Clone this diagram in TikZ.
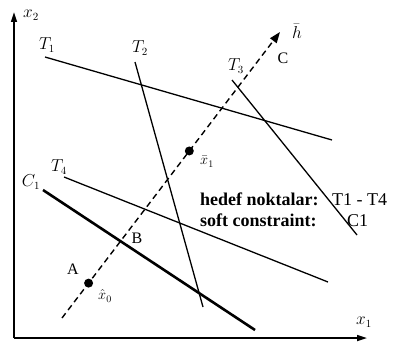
\documentclass[tikz,border=0pt]{standalone}
\usepackage{fontspec}
\setmainfont{Liberation Serif}
\usepackage{tikz}
\usetikzlibrary{arrows.meta,calc}
\tikzset{axis/.style={-{Triangle[length=10pt,width=6pt]},line width=1.6pt},
 target/.style={line width=1.3pt},
 constraint/.style={line width=2.6pt},
 direction/.style={-{Triangle[length=11pt,width=8pt]},line width=1.4pt,dash pattern=on 6pt off 4pt},
 every node/.style={font=\fontsize{16}{18}\selectfont}}

\begin{document}
\begin{tikzpicture}[x=1pt,y=1pt]
\useasboundingbox (0,0) rectangle (393,349);
\coordinate (O) at (14,11);
\draw[axis] (O)--(367,11);
\draw[axis] (O)--(14,337);
\node (lx1) at (364,27) {$x_1$};
\node (lx2) at (31,334) {$x_2$};
% target lines
\coordinate (T1a) at (45,292); \coordinate (T1b) at (332,209);
\coordinate (T2a) at (135,287); \coordinate (T2b) at (203,42);
\coordinate (T3a) at (232,269); \coordinate (T3b) at (357,114);
\coordinate (T4a) at (64,172); \coordinate (T4b) at (328,67);
\coordinate (C1a) at (43,159); \coordinate (C1b) at (255,19);
\draw[target] (T1a)--(T1b);
\draw[target] (T2a)--(T2b);
\draw[target] (T3a)--(T3b);
\draw[target] (T4a)--(T4b);
\draw[constraint] (C1a)--(C1b);
\node (lT1) at (47,304) {$T_1$};
\node (lT2) at (140,301) {$T_2$};
\node (lT3) at (236,283) {$T_3$};
\node (lT4) at (59,182) {$T_4$};
\node (lC1) at (31,167) {$C_1$};
% search direction
\coordinate (h0) at (62,31);
\coordinate (h1) at (280,317);
\draw[direction] (h0)--(h1);
\coordinate (X0) at ($(h0)!0.122!(h1)$);
\coordinate (X1) at ($(h0)!0.584!(h1)$);
\fill (X0) circle (4.5pt);
\fill (X1) circle (4.5pt);
\node[inner sep=1pt] (lh) at (297,318) {$\bar{h}$};
\node (lC) at (283,291) {C};
\node (lA) at (73,80) {A};
\node (lB) at (137,111) {B};
\node[font=\fontsize{14}{16}\selectfont] (lx0) at (105,53) {$\hat x_0$};
\node[font=\fontsize{14}{16}\selectfont] (lx1b) at (207,187) {$\bar x_1$};
% legend
\node[anchor=base west,inner sep=0pt,font=\fontsize{18}{20}\selectfont\bfseries] (leg1) at (200,144) {hedef noktalar:};
\node[anchor=base west,inner sep=0pt,font=\fontsize{18}{20}\selectfont\bfseries] (leg2) at (200,123) {soft constraint:};
\node[anchor=base west,inner sep=0pt,font=\fontsize{18}{20}\selectfont] (val1) at (332,144) {T1 - T4};
\node[anchor=base west,inner sep=0pt,font=\fontsize{18}{20}\selectfont] (val2) at (347,123) {C1};
\end{tikzpicture}
\end{document}
